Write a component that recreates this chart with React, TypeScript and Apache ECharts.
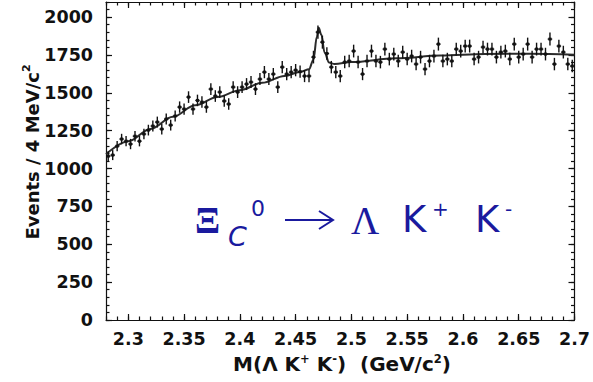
import React, { useEffect, useRef } from "react";
import * as echarts from "echarts";

// Histogram: M(Λ K+ K-) in 4 MeV bins starting at 2.28 GeV
const binStart = 2.28;
const binWidth = 0.004;
const counts = [
  1082, 1089, 1148, 1195, 1181, 1162, 1214, 1181, 1228, 1254, 1281, 1307, 1261, 1327, 1287, 1347, 1406, 1393, 1472, 1393, 1450,
  1439, 1406, 1525, 1479, 1505, 1446, 1426, 1538, 1505, 1538, 1558, 1571, 1525, 1591, 1637, 1591, 1624, 1538, 1670, 1624, 1637,
  1650, 1640, 1611, 1611, 1736, 1901, 1835, 1760,
  1670, 1637, 1611, 1703, 1710, 1776, 1703, 1624, 1710, 1776, 1710, 1703, 1789, 1723, 1756, 1710, 1769, 1723, 1743, 1690,
  1736, 1657, 1710, 1743, 1822, 1710, 1723, 1710, 1789, 1776, 1809, 1809, 1723, 1736, 1802, 1789, 1789, 1736, 1769, 1776,
  1723, 1822, 1736, 1756, 1822, 1736, 1789, 1789, 1756, 1855, 1690, 1809, 1769, 1690, 1677,
];

// Fit curve
const fitMass = [2.28, 2.3, 2.32, 2.34, 2.36, 2.38, 2.4, 2.42, 2.44, 2.455, 2.462, 2.466, 2.469, 2.4707, 2.473, 2.476, 2.48, 2.485, 2.5, 2.54, 2.58, 2.62, 2.66, 2.7];
const fitValue = [1095, 1180, 1262, 1342, 1418, 1473, 1518, 1566, 1612, 1640, 1656, 1720, 1870, 1930, 1885, 1765, 1700, 1690, 1703, 1728, 1747, 1757, 1758, 1752];

// Axis ticks
const xMajorTicks = [2.3, 2.35, 2.4, 2.45, 2.5, 2.55, 2.6, 2.65, 2.7];
const yMajorTicks = [0, 250, 500, 750, 1000, 1250, 1500, 1750, 2000];
const xMin = 2.28, xMax = 2.7, yMin = 0, yMax = 2100;

const xMinorTicks: number[] = [];
for (let k = 228; k <= 270; k++) xMinorTicks.push(k / 100);
const yMinorTicks: number[] = [];
for (let k = 0; k <= 2100; k += 50) yMinorTicks.push(k);

const labelFont = { fontFamily: "DejaVu Sans", fontWeight: "bold" as const, fontSize: 17.5, color: "#111" };
const blue = "#1a1a9e";

function xAx(position: "top" | "bottom", major: boolean, labels: boolean) {
  return {
    type: "value",
    position,
    min: xMin,
    max: xMax,
    axisLine: { show: major, onZero: false, lineStyle: { color: "#111", width: 1.2 } },
    axisTick: { show: true, inside: true, length: major ? 6 : 3.5, customValues: major ? xMajorTicks : xMinorTicks, lineStyle: { color: "#111", width: 1.2 } },
    axisLabel: labels ? { show: true, customValues: xMajorTicks, margin: 10, formatter: (v: number) => String(v), ...labelFont } : { show: false },
    splitLine: { show: false },
  };
}
function yAx(position: "left" | "right", major: boolean, labels: boolean) {
  return {
    type: "value",
    position,
    min: yMin,
    max: yMax,
    axisLine: { show: major, onZero: false, lineStyle: { color: "#111", width: 1.2 } },
    axisTick: { show: true, inside: true, length: major ? 6 : 3.5, customValues: major ? yMajorTicks : yMinorTicks, lineStyle: { color: "#111", width: 1.2 } },
    axisLabel: labels ? { show: true, customValues: yMajorTicks, margin: 13, formatter: (v: number) => String(v), ...labelFont } : { show: false },
    splitLine: { show: false },
  };
}

export default function App() {
  const ref = useRef<HTMLDivElement>(null);
  useEffect(() => {
    if (!ref.current) return;
    const chart = echarts.init(ref.current, null, { renderer: "svg" });
    const points = counts.map((v, i) => [binStart + binWidth * (i + 0.5), v]);
    const fit = fitMass.map((m, i) => [m, fitValue[i]]);
    const half = binWidth / 2;
    chart.setOption({
      animation: false,
      backgroundColor: "#fff",
      grid: { left: 106, right: 17, top: 2, bottom: 62, containLabel: false },
      xAxis: [xAx("bottom", true, true), xAx("bottom", false, false), xAx("top", true, false), xAx("top", false, false)],
      yAxis: [yAx("left", true, true), yAx("left", false, false), yAx("right", true, false), yAx("right", false, false)],
      series: [
        {
          type: "line",
          data: fit,
          xAxisIndex: 0,
          yAxisIndex: 0,
          smooth: 0.35,
          smoothMonotone: "x",
          showSymbol: false,
          lineStyle: { color: "#2b2b2b", width: 2 },
          z: 2,
        },
        {
          type: "custom",
          xAxisIndex: 0,
          yAxisIndex: 0,
          encode: { x: 0, y: 1 },
          data: points,
          z: 3,
          renderItem: (_p: any, api: any) => {
            const x = api.value(0);
            const v = api.value(1);
            const err = Math.sqrt(v);
            const c = api.coord([x, v]);
            const t = api.coord([x, v + err]);
            const b = api.coord([x, v - err]);
            const l = api.coord([x - half, v]);
            const r = api.coord([x + half, v]);
            const st = { stroke: "#111", lineWidth: 1.4 };
            return {
              type: "group",
              children: [
                { type: "line", shape: { x1: c[0], y1: t[1], x2: c[0], y2: b[1] }, style: st },
                { type: "line", shape: { x1: l[0], y1: c[1], x2: r[0], y2: c[1] }, style: st },
                { type: "rect", shape: { x: c[0] - 1.5, y: c[1] - 1.5, width: 3, height: 3 }, style: { fill: "#111" } },
              ],
            };
          },
        },
      ],
      graphic: [
        {
          type: "text",
          x: 342,
          y: 364,
          style: {
            text: "{n|M(Λ K}{s|+}{n| K}{s|-}{n|)  (GeV/c}{s|2}{n|)}",
            align: "center",
            verticalAlign: "middle",
            rich: {
              n: { fontFamily: "DejaVu Sans", fontWeight: "bold", fontSize: 20, fill: "#111", lineHeight: 23 },
              s: { fontFamily: "DejaVu Sans", fontWeight: "bold", fontSize: 11.5, fill: "#111", verticalAlign: "top", lineHeight: 12 },
            },
          },
        },
        {
          type: "text",
          x: 32,
          y: 152,
          rotation: Math.PI / 2,
          style: {
            text: "{n|Events / 4 MeV/c}{s|2}",
            align: "center",
            verticalAlign: "middle",
            rich: {
              n: { fontFamily: "DejaVu Sans", fontWeight: "bold", fontSize: 18, fill: "#111", lineHeight: 22 },
              s: { fontFamily: "DejaVu Sans", fontWeight: "bold", fontSize: 11, fill: "#111", verticalAlign: "top", lineHeight: 12 },
            },
          },
        },
        // Annotation: Ξc0 → Λ K+ K-
        { type: "text", x: 195, y: 220, style: { text: "Ξ", fontFamily: "Liberation Serif", fontWeight: "bold", fontSize: 37, fill: blue, align: "left", verticalAlign: "middle" } },
        { type: "text", x: 228, y: 236, style: { text: "C", fontFamily: "DejaVu Sans", fontStyle: "italic", fontSize: 27, fill: blue, align: "left", verticalAlign: "middle" } },
        { type: "text", x: 251, y: 208, style: { text: "0", fontFamily: "DejaVu Sans", fontSize: 22, fill: blue, align: "left", verticalAlign: "middle" } },
        { type: "line", shape: { x1: 285, y1: 220, x2: 332, y2: 220 }, style: { stroke: blue, lineWidth: 2 } },
        { type: "polyline", shape: { points: [[319, 211], [333, 220], [319, 229]] }, style: { stroke: blue, lineWidth: 2, fill: "none" } },
        { type: "text", x: 351, y: 220, style: { text: "Λ", fontFamily: "Liberation Serif", fontSize: 39, fill: blue, align: "left", verticalAlign: "middle" } },
        { type: "text", x: 402, y: 219, style: { text: "K", fontFamily: "DejaVu Sans", fontSize: 37, fill: blue, align: "left", verticalAlign: "middle" } },
        { type: "text", x: 432, y: 209, style: { text: "+", fontFamily: "DejaVu Sans", fontSize: 20, fill: blue, align: "left", verticalAlign: "middle" } },
        { type: "text", x: 475, y: 219, style: { text: "K", fontFamily: "DejaVu Sans", fontSize: 37, fill: blue, align: "left", verticalAlign: "middle" } },
        { type: "text", x: 505, y: 209, style: { text: "-", fontFamily: "DejaVu Sans", fontSize: 20, fill: blue, align: "left", verticalAlign: "middle" } },
      ],
    });
    return () => chart.dispose();
  }, []);
  return <div ref={ref} style={{ position: "fixed", left: 0, top: 0, width: 593, height: 382 }} />;
}
